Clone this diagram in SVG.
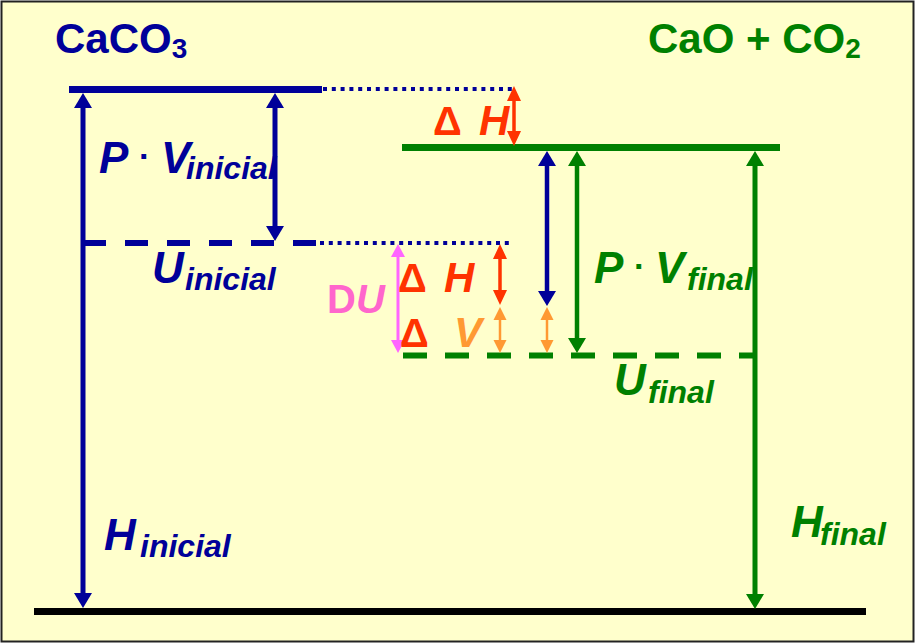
<svg xmlns="http://www.w3.org/2000/svg" width="916" height="644" viewBox="0 0 916 644">
<style>
text{font-family:"Liberation Sans",Arial,sans-serif;font-weight:bold}
.it{font-style:italic}
.big{font-size:44px}
.sub{font-size:32px}
.dot{font-weight:bold;font-size:34px}
.navy{fill:#000099}
.grn{fill:#008000}
.red{fill:#FF3300}
.org{fill:#FF9933}
.pnk{fill:#FF66CC}
.ln{fill:none;stroke-linecap:butt}
</style>
<defs>
<marker id="mb" markerUnits="userSpaceOnUse" markerWidth="15" markerHeight="18" refX="5" refY="9" orient="auto-start-reverse" overflow="visible"><path d="M0,0 L15,9 L0,18 z" fill="#000099"/></marker>
<marker id="mg" markerUnits="userSpaceOnUse" markerWidth="15" markerHeight="18" refX="5" refY="9" orient="auto-start-reverse" overflow="visible"><path d="M0,0 L15,9 L0,18 z" fill="#008000"/></marker>
<marker id="mr" markerUnits="userSpaceOnUse" markerWidth="15" markerHeight="14" refX="5" refY="7" orient="auto-start-reverse" overflow="visible"><path d="M0,0 L15,7 L0,14 z" fill="#FF3300"/></marker>
<marker id="mo" markerUnits="userSpaceOnUse" markerWidth="13" markerHeight="13" refX="4" refY="6.5" orient="auto-start-reverse" overflow="visible"><path d="M0,0 L13,6.5 L0,13 z" fill="#FF9933"/></marker>
<marker id="mp" markerUnits="userSpaceOnUse" markerWidth="13" markerHeight="14" refX="4" refY="7" orient="auto-start-reverse" overflow="visible"><path d="M0,0 L13,7 L0,14 z" fill="#FF66FF"/></marker>
</defs>
<rect x="1.5" y="1.5" width="912" height="640" fill="#FFFFCC" stroke="#222" stroke-width="2"/>

<g id="levels">
<line class="ln" x1="69" y1="89.5" x2="322" y2="89.5" stroke="#000099" stroke-width="7"/>
<line class="ln" x1="323" y1="89" x2="513" y2="89" stroke="#000099" stroke-width="4" stroke-dasharray="4 4.8"/>
<line class="ln" x1="83" y1="243" x2="318" y2="243" stroke="#000099" stroke-width="6" stroke-dasharray="23 19"/>
<line class="ln" x1="320" y1="243" x2="512" y2="243" stroke="#000099" stroke-width="4" stroke-dasharray="4 4.8"/>
<line class="ln" x1="402" y1="147.5" x2="780" y2="147.5" stroke="#008000" stroke-width="7"/>
<line class="ln" x1="403" y1="355.5" x2="757" y2="355.5" stroke="#008000" stroke-width="6" stroke-dasharray="24 18"/>
<line class="ln" x1="34" y1="611.5" x2="866" y2="611.5" stroke="#000" stroke-width="7"/>
</g>

<g id="connectors">
<line class="ln" x1="83" y1="103" x2="83" y2="598" stroke="#000099" stroke-width="5" marker-start="url(#mb)" marker-end="url(#mb)"/>
<line class="ln" x1="275" y1="103" x2="275" y2="231" stroke="#000099" stroke-width="5" marker-start="url(#mb)" marker-end="url(#mb)"/>
<line class="ln" x1="547" y1="161" x2="547" y2="296" stroke="#000099" stroke-width="4.5" marker-start="url(#mb)" marker-end="url(#mb)"/>
<line class="ln" x1="577" y1="161" x2="577" y2="343" stroke="#008000" stroke-width="4.5" marker-start="url(#mg)" marker-end="url(#mg)"/>
<line class="ln" x1="755" y1="161" x2="755" y2="599" stroke="#008000" stroke-width="5" marker-start="url(#mg)" marker-end="url(#mg)"/>
<line class="ln" x1="514" y1="96" x2="514" y2="136" stroke="#FF3300" stroke-width="3.5" marker-start="url(#mr)" marker-end="url(#mr)"/>
<line class="ln" x1="500" y1="254" x2="500" y2="295" stroke="#FF3300" stroke-width="3.5" marker-start="url(#mr)" marker-end="url(#mr)"/>
<line class="ln" x1="500" y1="316" x2="500" y2="344" stroke="#FF9933" stroke-width="2.5" marker-start="url(#mo)" marker-end="url(#mo)"/>
<line class="ln" x1="547" y1="316" x2="547" y2="344" stroke="#FF9933" stroke-width="2.5" marker-start="url(#mo)" marker-end="url(#mo)"/>
<line class="ln" x1="398" y1="253" x2="398" y2="344" stroke="#FF66FF" stroke-width="3" marker-start="url(#mp)" marker-end="url(#mp)"/>
</g>

<g id="caco3"><text x="55" y="53" font-size="42" class="navy">CaCO<tspan font-size="28" dy="5">3</tspan></text></g>
<g id="cao-co2"><text x="648" y="53" font-size="42" class="grn">CaO + CO<tspan font-size="28" dy="5">2</tspan></text></g>

<g id="pv-inicial" class="navy">
<text x="99" y="173" class="it big">P</text>
<text x="139" y="168" class="dot">·</text>
<text x="161" y="173" class="it big">V</text>
<text x="186" y="179" class="it sub">inicial</text>
</g>
<g id="u-inicial" class="navy">
<text x="152" y="283" class="it big">U</text>
<text x="185" y="290" class="it sub">inicial</text>
</g>
<g id="h-inicial" class="navy">
<text x="104" y="550" class="it big">H</text>
<text x="140" y="557" class="it sub">inicial</text>
</g>

<g id="pv-final" class="grn">
<text x="594" y="283" class="it big">P</text>
<text x="634" y="278" class="dot">·</text>
<text x="655" y="283" class="it big">V</text>
<text x="687" y="290" class="it sub">final</text>
</g>
<g id="u-final" class="grn">
<text x="614" y="395" class="it big">U</text>
<text x="648" y="403" class="it sub">final</text>
</g>
<g id="h-final" class="grn">
<text x="791" y="537" class="it big">H</text>
<text x="820" y="545" class="it sub">final</text>
</g>

<g id="dh-top">
<text x="433" y="135" font-size="40" class="red">Δ</text>
<text x="479" y="135" font-size="42" class="it red">H</text>
</g>
<g id="dh-low">
<text x="398" y="292" font-size="40" class="red">Δ</text>
<text x="444" y="292" font-size="42" class="it red">H</text>
</g>
<g id="dv">
<text x="400" y="347" font-size="40" class="red">Δ</text>
<text x="454" y="347" font-size="42" class="it org">V</text>
</g>
<g id="du">
<text x="327" y="313" font-size="40" class="pnk">D<tspan class="it">U</tspan></text>
</g>
</svg>
